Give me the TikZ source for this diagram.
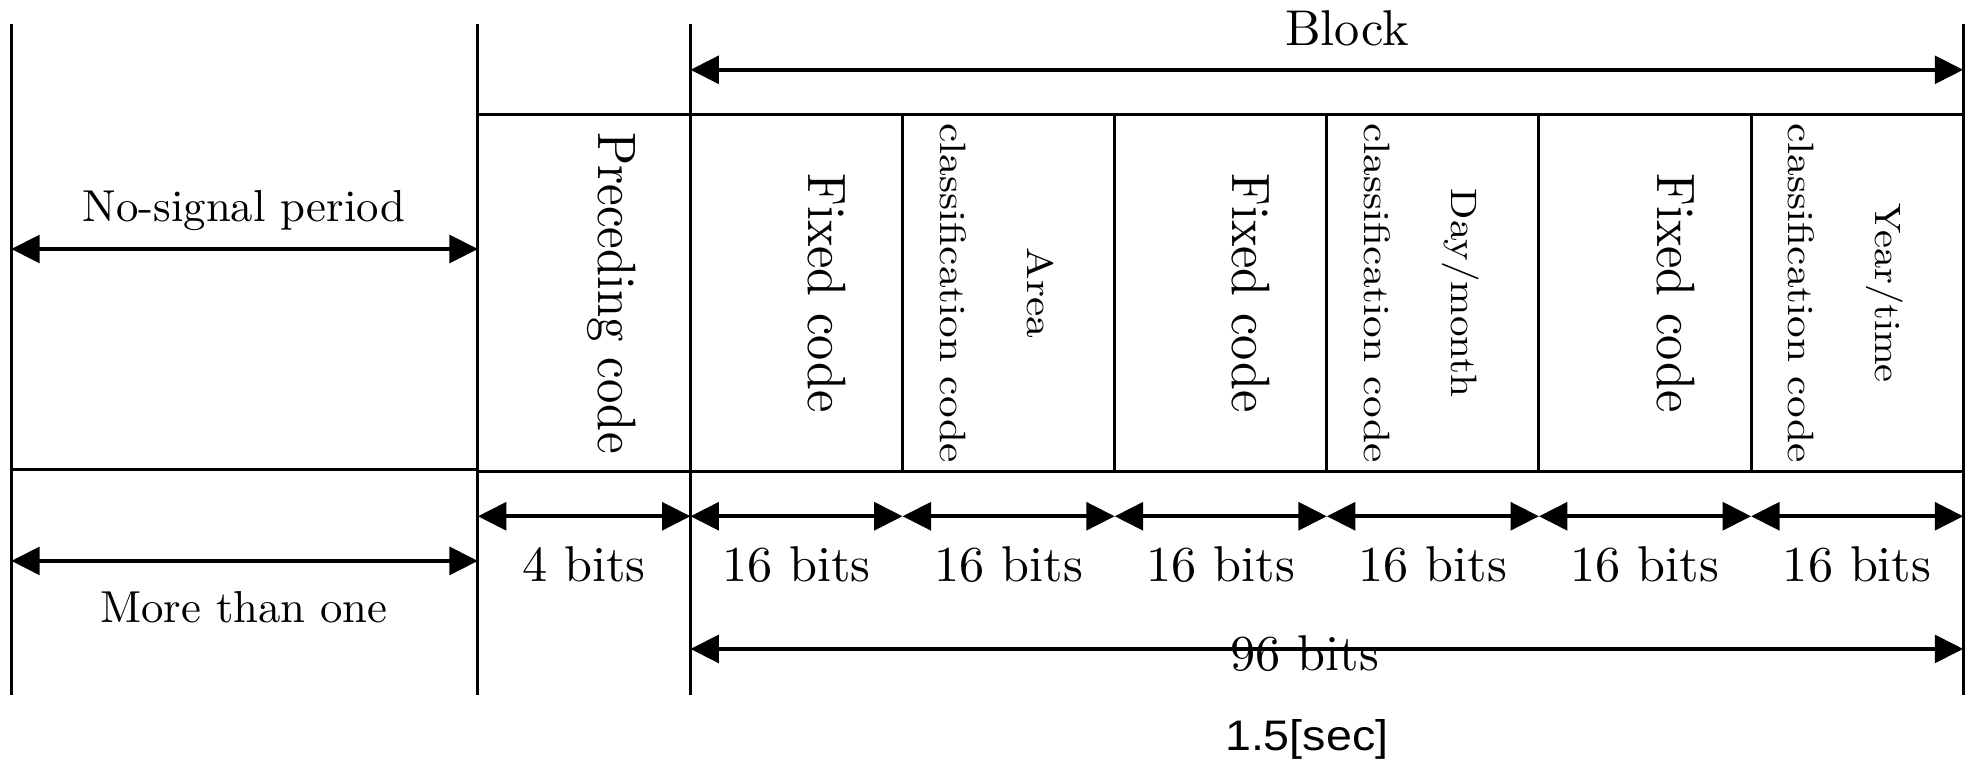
\documentclass[tikz,border=0pt]{standalone}
\usepackage{fontspec}
% one design size for every text size
\setmainfont{lmroman10-regular.otf}
\newfontfamily\labelsans{Liberation Sans}
\usetikzlibrary{arrows.meta}

\begin{document}
\begin{tikzpicture}[x=0.5pt,y=-0.5pt,
  rule/.style={line width=1.2pt},
  span/.style={line width=1.6pt,
    {Triangle[length=11.3pt,width=11pt]}-{Triangle[length=11.3pt,width=11pt]}},
  lbl/.style={inner sep=0pt, anchor=base, font=\fontsize{20}{24}\selectfont},
  sidelbl/.style={inner sep=0pt, anchor=base, font=\fontsize{17.8}{21}\selectfont},
  bigfield/.style={inner sep=0pt, anchor=base, rotate=-90, font=\fontsize{21.5}{25}\selectfont},
  smallfield/.style={inner sep=0pt, anchor=base, rotate=-90, font=\fontsize{14.6}{17}\selectfont},
  seclbl/.style={inner sep=0pt, anchor=base, font=\labelsans\fontsize{17}{20}\selectfont},
]
\useasboundingbox (0,0) rectangle (1568,608);

% time marks: start of silence, start of preceding code, start and end of block
\foreach \n/\x in {a/9, b/380, c/549, d/1561} {
  \coordinate (\n-top) at (\x,19);
  \coordinate (\n-bot) at (\x,553);
  \coordinate (\n-ns)  at (\x,198);
  \coordinate (\n-blk) at (\x,55.5);
  \coordinate (\n-bit) at (\x,410.5);
  \coordinate (\n-mo)  at (\x,446);
  \coordinate (\n-all) at (\x,516);
  \coordinate (\n-hi)  at (\x,91);
  \coordinate (\n-lo)  at (\x,375);
  \draw[rule] (\n-top) -- (\n-bot);
}
\coordinate (a-lo2) at (9,373);
\coordinate (b-lo2) at (380,373);

% field dividers inside the block (six 16-bit fields)
\foreach \k in {1,...,5} {
  \pgfmathsetmacro{\xx}{549+168.667*\k}
  \coordinate (f\k-hi)  at (\xx,91);
  \coordinate (f\k-lo)  at (\xx,375);
  \coordinate (f\k-bit) at (\xx,410.5);
  \draw[rule] (f\k-hi) -- (f\k-lo);
}

% frame of the code sequence
\draw[rule] (b-hi) -- (d-hi);
\draw[rule] (b-lo) -- (d-lo);
\draw[rule] (a-lo2) -- (b-lo2);

% dimension arrows
\draw[span] (c-blk) -- (d-blk);
\draw[span] (a-ns) -- (b-ns);
\draw[span] (a-mo) -- (b-mo);
\draw[span] (c-all) -- (d-all);
\draw[span] (b-bit) -- (c-bit);
\draw[span] (c-bit) -- (f1-bit);
\draw[span] (f1-bit) -- (f2-bit);
\draw[span] (f2-bit) -- (f3-bit);
\draw[span] (f3-bit) -- (f4-bit);
\draw[span] (f4-bit) -- (f5-bit);
\draw[span] (f5-bit) -- (d-bit);

% horizontal labels
\node[lbl] (block) at (1071,36) {Block};
\node[sidelbl] (nosig) at (194,176) {No-signal period};
\node[sidelbl] (more) at (194,495) {More than one};
\node[lbl] (bits4) at (464.5,462.5) {4 bits};
\foreach \k in {0,...,5} {
  \pgfmathsetmacro{\xx}{549+168.667*(\k+0.5)}
  \node[lbl] (bits16-\k) at (\xx,462.5) {16 bits};
}
\node[lbl] (bits96) at (1037.6,533) {96 bits};
\node[seclbl] (dur) at (1039,597) {\scalebox{1.09}[1]{1.5[sec]}};

% field names, written top to bottom
\node[bigfield] (prec) at (476,233) {\scalebox{0.9}[1]{Preceding code}};
\node[bigfield] (fix1) at (643,233) {\scalebox{0.93}[1]{Fixed code}};
\node[bigfield] (fix2) at (980.3,233) {\scalebox{0.93}[1]{Fixed code}};
\node[bigfield] (fix3) at (1317.7,233) {\scalebox{0.93}[1]{Fixed code}};

\node[smallfield] (area1) at (816.7,233) {\scalebox{1.18}[1]{Area}};
\node[smallfield] (area2) at (747.7,233) {\scalebox{1.18}[1]{classification code}};
\node[smallfield] (day1) at (1154,233) {\scalebox{1.12}[1]{Day/month}};
\node[smallfield] (day2) at (1085,233) {\scalebox{1.18}[1]{classification code}};
\node[smallfield] (year1) at (1491.3,233) {\scalebox{1.1}[1]{Year/time}};
\node[smallfield] (year2) at (1422.3,233) {\scalebox{1.18}[1]{classification code}};
\end{tikzpicture}
\end{document}
